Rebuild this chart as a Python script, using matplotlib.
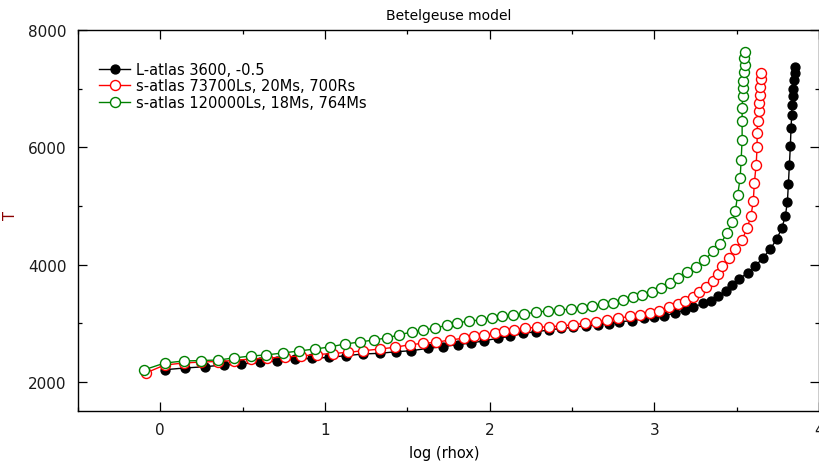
import matplotlib
matplotlib.use("Agg")
import matplotlib.pyplot as plt
from matplotlib.ticker import MultipleLocator

title = "Betelgeuse model"
xlabel = "log (rhox)"
ylabel = "T"

labels = ["L-atlas 3600, -0.5", "s-atlas 73700Ls, 20Ms, 700Rs", "s-atlas 120000Ls, 18Ms, 764Ms"]

black_x = [0.026, 0.148, 0.269, 0.384, 0.492, 0.603, 0.710, 0.820, 0.923, 1.024, 1.129, 1.230, 1.332,
           1.433, 1.524, 1.625, 1.716, 1.807, 1.888, 1.969, 2.050, 2.125, 2.206, 2.283, 2.359, 2.435,
           2.509, 2.587, 2.657, 2.728, 2.789, 2.868, 2.935, 3.001, 3.062, 3.129, 3.184, 3.238, 3.295,
           3.346, 3.386, 3.433, 3.475, 3.518, 3.568, 3.615, 3.659, 3.706, 3.744, 3.775, 3.797, 3.809,
           3.815, 3.821, 3.827, 3.831, 3.835, 3.837, 3.841, 3.845, 3.848, 3.853, 3.856]
black_y = [2205, 2234, 2256, 2285, 2302, 2331, 2358, 2387, 2399, 2416, 2444, 2473, 2485,
           2512, 2529, 2570, 2597, 2635, 2660, 2700, 2741, 2775, 2826, 2853, 2882, 2911,
           2928, 2956, 2973, 2985, 3024, 3041, 3082, 3099, 3126, 3172, 3224, 3270, 3338,
           3382, 3457, 3548, 3650, 3761, 3855, 3974, 4111, 4265, 4435, 4618, 4836, 5075,
           5374, 5698, 6027, 6324, 6551, 6722, 6867, 7003, 7148, 7268, 7370]

red_x = [-0.089, 0.026, 0.141, 0.245, 0.348, 0.445, 0.548, 0.651, 0.755, 0.852, 0.949, 1.046, 1.139,
         1.234, 1.332, 1.423, 1.514, 1.594, 1.676, 1.757, 1.842, 1.908, 1.969, 2.030, 2.090, 2.151,
         2.218, 2.287, 2.359, 2.435, 2.509, 2.582, 2.647, 2.712, 2.778, 2.854, 2.914, 2.975, 3.032,
         3.088, 3.143, 3.190, 3.234, 3.275, 3.315, 3.355, 3.386, 3.412, 3.452, 3.493, 3.534, 3.564,
         3.588, 3.602, 3.608, 3.619, 3.625, 3.625, 3.628, 3.634, 3.639, 3.643, 3.645, 3.649, 3.649]
red_y = [2148, 2285, 2319, 2336, 2345, 2362, 2387, 2404, 2421, 2439, 2464, 2481, 2502,
         2529, 2558, 2587, 2631, 2655, 2672, 2712, 2741, 2775, 2797, 2823, 2860, 2887,
         2916, 2928, 2939, 2951, 2973, 2997, 3024, 3048, 3082, 3116, 3138, 3167, 3212,
         3270, 3326, 3382, 3440, 3526, 3611, 3724, 3838, 3969, 4106, 4265, 4423, 4618,
         4833, 5089, 5386, 5698, 6000, 6239, 6454, 6614, 6756, 6892, 7024, 7166, 7268]

green_x = [-0.101, 0.026, 0.141, 0.245, 0.348, 0.445, 0.548, 0.639, 0.743, 0.840, 0.937, 1.028, 1.119,
           1.210, 1.295, 1.374, 1.447, 1.526, 1.598, 1.671, 1.744, 1.805, 1.872, 1.945, 2.012, 2.078,
           2.145, 2.212, 2.285, 2.352, 2.424, 2.497, 2.564, 2.624, 2.691, 2.752, 2.813, 2.873, 2.928,
           2.989, 3.043, 3.098, 3.146, 3.201, 3.256, 3.305, 3.359, 3.402, 3.443, 3.473, 3.493, 3.507,
           3.522, 3.528, 3.534, 3.534, 3.534, 3.537, 3.537, 3.541, 3.543, 3.552, 3.548, 3.552]
green_y = [2200, 2319, 2353, 2362, 2370, 2404, 2439, 2456, 2490, 2524, 2558, 2592, 2643,
           2677, 2712, 2746, 2797, 2848, 2882, 2916, 2967, 3002, 3036, 3053, 3087, 3121,
           3138, 3155, 3189, 3206, 3224, 3241, 3258, 3292, 3326, 3343, 3394, 3445, 3480,
           3531, 3599, 3684, 3770, 3872, 3957, 4077, 4230, 4350, 4538, 4730, 4918, 5191,
           5476, 5788, 6130, 6444, 6671, 6870, 7012, 7137, 7280, 7410, 7524, 7631]

xticks = [0, 1, 2, 3, 4]
yticks = [2000, 4000, 6000, 8000]

fig = plt.figure(figsize=(8.2, 4.64), dpi=100)
ax = fig.add_axes([0.0951, 0.112, 0.9035, 0.821])

ax.plot(black_x, black_y, color="black", lw=1.0, marker="o", ms=6.4,
        mfc="black", mec="black", mew=1.0, label=labels[0])
ax.plot(red_x, red_y, color="red", lw=1.0, marker="o", ms=7.2,
        mfc="white", mec="red", mew=1.0, label=labels[1])
ax.plot(green_x, green_y, color="green", lw=1.0, marker="o", ms=7.2,
        mfc="white", mec="green", mew=1.0, label=labels[2])

ax.set_xlim(-0.5, 4)
ax.set_ylim(1500, 8000)
ax.set_xticks(xticks)
ax.set_yticks(yticks)
ax.xaxis.set_minor_locator(MultipleLocator(0.5))
ax.yaxis.set_minor_locator(MultipleLocator(1000))
ax.tick_params(which="both", direction="in", top=True, right=True, labelsize=11, colors="black")
ax.tick_params(which="major", length=6.2, width=0.9)
ax.tick_params(which="minor", length=3.2, width=0.9)
ax.tick_params(axis="x", which="major", pad=8)
ax.tick_params(axis="y", which="major", pad=8)
for tl in ax.get_xticklabels() + ax.get_yticklabels():
    tl.set_color("#1a1a1a")
for s in ax.spines.values():
    s.set_linewidth(1.0)

ax.set_title(title, fontsize=10, pad=8)
ax.set_xlabel(xlabel, fontsize=10.5)
ax.xaxis.set_label_coords(0.495, -0.088)
ax.set_ylabel(ylabel, fontsize=10.5, color="#8b0000", rotation=90)
ax.yaxis.set_label_coords(-0.081, 0.517)

ax.legend(loc="upper left", bbox_to_anchor=(0.017, 0.94), frameon=False, fontsize=10.5,
          handlelength=2.1, handletextpad=0.4, labelspacing=0.1, borderaxespad=0.2)

fig.savefig("out.png", dpi=100)
